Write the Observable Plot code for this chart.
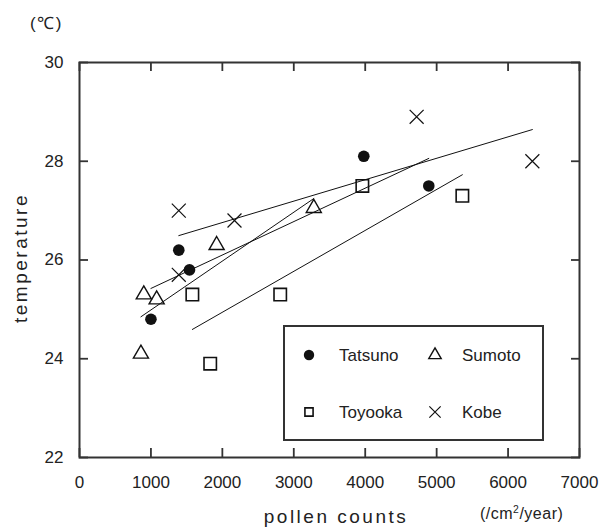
<!DOCTYPE html>
<html><head><meta charset="utf-8">
<script src="https://cdn.jsdelivr.net/npm/d3@7"></script>
<script src="https://cdn.jsdelivr.net/npm/@observablehq/plot@0.6"></script>
<style>
body{margin:0;background:#fff;}
#wrap{position:relative;width:601px;height:528px;font-family:"Liberation Sans",Arial,sans-serif;color:#222;background:#fff;}
#wrap > svg{position:absolute;left:0;top:0;}
.lbl{position:absolute;white-space:nowrap;line-height:1;}
#legend{position:absolute;left:283px;top:325px;width:261px;height:116px;box-sizing:border-box;border:2px solid #333;background:#fff;}
.lg-sym{position:absolute;}
.lg-txt{position:absolute;font-size:17px;line-height:1;transform:translateY(-50%);white-space:nowrap;}
</style></head><body><div id="wrap"></div>
<script>
// ---- data ----
const sites = ["Tatsuno", "Sumoto", "Toyooka", "Kobe"];
const tatsunoX = [1000, 1390, 1540, 3980, 4890];
const tatsunoY = [24.8, 26.2, 25.8, 28.1, 27.5];
const sumotoX = [860, 900, 1080, 1920, 3280];
const sumotoY = [24.1, 25.3, 25.2, 26.3, 27.05];
const toyookaX = [1580, 1830, 2810, 3960, 5360];
const toyookaY = [25.3, 23.9, 25.3, 27.5, 27.3];
const kobeX = [1390, 2170, 1390, 4720, 6340];
const kobeY = [27.0, 26.8, 25.7, 28.9, 28.0];
const xTicks = [0, 1000, 2000, 3000, 4000, 5000, 6000, 7000];
const yTicks = [22, 24, 26, 28, 30];

// ---- build table ----
const seriesX = {Tatsuno: tatsunoX, Sumoto: sumotoX, Toyooka: toyookaX, Kobe: kobeX};
const seriesY = {Tatsuno: tatsunoY, Sumoto: sumotoY, Toyooka: toyookaY, Kobe: kobeY};
const data = sites.flatMap(s => seriesX[s].map((x, i) => ({site: s, x, y: seriesY[s][i]})));

const ink = "#111";
const symStyle = {
  Tatsuno: {symbol: "circle", fill: ink, stroke: "none", r: 5.8, strokeWidth: 0},
  Sumoto: {symbol: "triangle", fill: "none", stroke: ink, r: 5.6, strokeWidth: 1.4},
  Toyooka: {symbol: "square", fill: "none", stroke: ink, r: 7.0, strokeWidth: 1.6},
  Kobe: {symbol: "times", fill: "none", stroke: ink, r: 6.4, strokeWidth: 1.2}
};

const axisColor = "#333";
const tickLen = 9;
const frameH = 528 - 62 - 71;
const tickStyle = {stroke: axisColor, strokeWidth: 1.8};
const chart = Plot.plot({
  width: 601, height: 528,
  marginLeft: 79, marginRight: 22, marginTop: 62, marginBottom: 71,
  x: {domain: [0, 7000]},
  y: {domain: [22, 30]},
  style: {fontFamily: "Liberation Sans, Arial, sans-serif", fontSize: "17px", color: "#222"},
  marks: [
    Plot.frame({stroke: axisColor, strokeWidth: 2}),
    // tick labels
    Plot.axisX(xTicks, {anchor: "bottom", tickSize: 0, tickPadding: 18, tickFormat: d => String(d), label: null}),
    Plot.axisY(yTicks, {anchor: "left", tickSize: 0, tickPadding: 16, tickFormat: d => String(d), label: null}),
    // regression lines per site
    Plot.linearRegressionY(data, {x: "x", y: "y", z: "site", stroke: ink, strokeWidth: 1, ci: 0}),
    // points
    ...sites.map(s => Plot.dot(data.filter(d => d.site === s), {x: "x", y: "y", ...symStyle[s]})),
    // inward ticks on all four sides
    Plot.ruleX(xTicks, {x: d => d, insetTop: frameH - tickLen, ...tickStyle}),
    Plot.ruleX(xTicks, {x: d => d, insetBottom: frameH - tickLen, ...tickStyle}),
    Plot.axisY(yTicks, {anchor: "left", tickSize: tickLen, dx: tickLen, tickFormat: () => "", label: null, ...tickStyle}),
    Plot.axisY(yTicks, {anchor: "right", tickSize: tickLen, dx: -tickLen, tickFormat: () => "", label: null, ...tickStyle})
  ]
});

const wrap = document.getElementById("wrap");
wrap.appendChild(chart);

// titles / axis captions
function addLabel(html, css) {
  const d = document.createElement("div");
  d.className = "lbl";
  d.innerHTML = html;
  Object.assign(d.style, css);
  wrap.appendChild(d);
  return d;
}
addLabel("(℃)", {left: "30px", top: "15px", fontSize: "17px", letterSpacing: "1.5px"});
addLabel("temperature", {left: "20px", top: "258px", fontSize: "19px", letterSpacing: "2.5px", transform: "translate(-50%,-50%) rotate(-90deg)"});
addLabel("pollen counts", {left: "336px", top: "507px", fontSize: "19px", letterSpacing: "2.5px", transform: "translateX(-50%)"});
addLabel("(/cm<sup style='font-size:0.65em;vertical-align:0.55em'>2</sup>/year)", {left: "480px", top: "505px", fontSize: "16px", letterSpacing: "0.5px"});

// legend (inside the plot frame)
const legend = document.createElement("div");
legend.id = "legend";
wrap.appendChild(legend);
const legPos = [[26, 30, 56], [152, 30, 179], [26, 87, 56], [152, 87, 179]];
sites.forEach((s, i) => {
  const st = symStyle[s];
  const [cx, cy, tx] = legPos[i];
  const sz = 20;
  const svg = d3.create("svg").attr("width", sz).attr("height", sz).attr("class", "lg-sym")
    .style("left", (cx - sz / 2 - 2) + "px").style("top", (cy - sz / 2 - 2) + "px");
  const symType = {circle: d3.symbolCircle, triangle: d3.symbolTriangle, square: d3.symbolSquare, times: d3.symbolTimes}[st.symbol];
  const lr = s === "Toyooka" ? 4.6 : s === "Sumoto" ? 4.6 : 5.2;
  svg.append("path").attr("transform", `translate(${sz / 2},${sz / 2})`)
    .attr("d", d3.symbol(symType, lr * lr * Math.PI)())
    .attr("fill", st.fill).attr("stroke", st.stroke).attr("stroke-width", st.strokeWidth);
  legend.appendChild(svg.node());
  const t = document.createElement("div");
  t.className = "lg-txt";
  t.textContent = s;
  t.style.left = (tx - 2) + "px";
  t.style.top = (cy - 2) + "px";
  legend.appendChild(t);
});
</script>
</body></html>
